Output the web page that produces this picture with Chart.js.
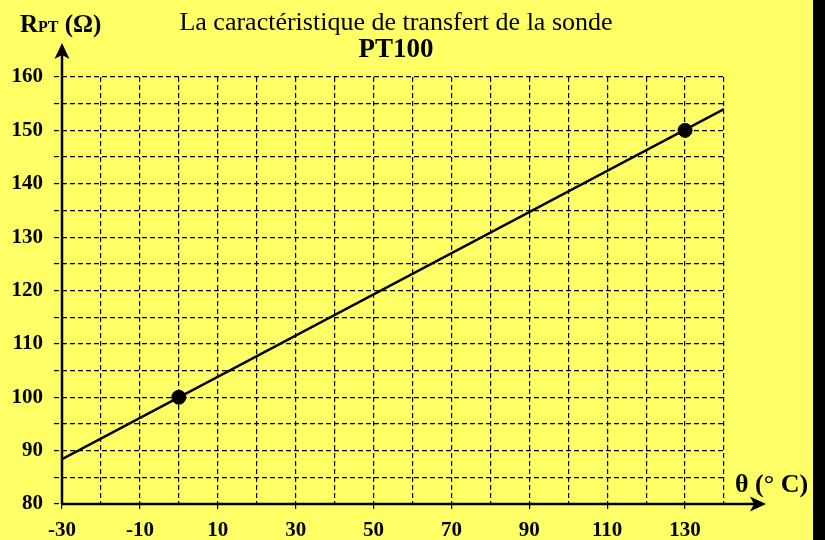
<!DOCTYPE html>
<html>
<head>
<meta charset="utf-8">
<script src="https://cdn.jsdelivr.net/npm/chart.js@4"></script>
<style>
  html, body { margin: 0; padding: 0; background: #ffff66; }
  #wrap { width: 813px; height: 540px; background: #ffff66; border-right: 12px solid #000; }
  canvas { display: block; }
</style>
</head>
<body>
<div id="wrap"><canvas id="chart" width="813" height="540"></canvas></div>
<script>
// Measured points of the PT100 probe
const pointTemps = [0, 130];
const pointRes = [100, 150];

// Transfer line drawn across the whole graph
const lineTemps = [-30, 140];
const lineRes = [88.4, 154];

// Tick labels shown on each axis
const xTickLabels = [-30, -10, 10, 30, 50, 70, 90, 110, 130];
const yTickLabels = [80, 90, 100, 110, 120, 130, 140, 150, 160];

const SERIF = '"Liberation Serif", "Times New Roman", serif';

/**
 * Axes with arrow heads and the hand-placed texts
 */
const decorations = {
  id: 'decorations',
  afterDraw(chart) {
    const ctx = chart.ctx;
    const area = chart.chartArea;
    const x0 = area.left;
    const y0 = area.bottom;

    ctx.save();
    ctx.strokeStyle = '#000';
    ctx.fillStyle = '#000';
    ctx.lineWidth = 2.5;
    ctx.setLineDash([]);

    // axis lines
    ctx.beginPath();
    ctx.moveTo(x0, y0);
    ctx.lineTo(x0, 48);
    ctx.moveTo(x0, y0);
    ctx.lineTo(761, y0);
    ctx.stroke();

    // y arrow
    ctx.beginPath();
    ctx.moveTo(x0, 43);
    ctx.lineTo(x0 - 7.5, 59);
    ctx.lineTo(x0, 55);
    ctx.lineTo(x0 + 7.5, 59);
    ctx.closePath();
    ctx.fill();

    // x arrow
    ctx.beginPath();
    ctx.moveTo(766, y0);
    ctx.lineTo(750, y0 - 7.5);
    ctx.lineTo(754, y0);
    ctx.lineTo(750, y0 + 7.5);
    ctx.closePath();
    ctx.fill();

    // title
    ctx.textBaseline = 'alphabetic';
    ctx.textAlign = 'center';
    ctx.font = `26px ${SERIF}`;
    ctx.fillText('La caractéristique de transfert de la sonde', 396, 30);
    ctx.font = `bold 27px ${SERIF}`;
    ctx.fillText('PT100', 396, 57);

    // y axis title: R PT (Ω)
    ctx.textAlign = 'left';
    let x = 20;
    ctx.font = `bold 25px ${SERIF}`;
    ctx.fillText('R', x, 32);
    x += ctx.measureText('R').width;
    ctx.font = `bold 16px ${SERIF}`;
    ctx.fillText('PT', x, 32);
    x += ctx.measureText('PT').width;
    ctx.font = `bold 25px ${SERIF}`;
    ctx.fillText(' (Ω)', x, 32);

    // x axis title
    ctx.font = `bold 26px ${SERIF}`;
    ctx.fillText('θ (° C)', 735, 492);

    ctx.restore();
  },
};

const ctx = document.getElementById('chart').getContext('2d');

new Chart(ctx, {
  type: 'scatter',
  data: {
    datasets: [
      {
        label: 'Points',
        data: pointTemps.map((t, i) => ({ x: t, y: pointRes[i] })),
        backgroundColor: '#000',
        borderColor: '#000',
        pointRadius: 7,
        pointHoverRadius: 7,
      },
      {
        label: 'RPT',
        data: lineTemps.map((t, i) => ({ x: t, y: lineRes[i] })),
        showLine: true,
        borderColor: '#000',
        borderWidth: 2.5,
        pointRadius: 0,
        pointHoverRadius: 0,
      },
    ],
  },
  options: {
    responsive: false,
    animation: false,
    layout: {
      padding: { left: 0, top: 77, right: 89, bottom: 0 },
    },
    plugins: {
      legend: { display: false },
      tooltip: { enabled: false },
    },
    scales: {
      x: {
        type: 'linear',
        min: -30,
        max: 140,
        afterFit: (scale) => { scale.height = 36; },
        border: { display: false, dash: [5, 3] },
        grid: {
          color: '#000',
          lineWidth: 1.2,
          tickLength: 6,
          tickWidth: 1.2,
          tickBorderDash: [5, 3],
          tickColor: (c) => (c.tick && xTickLabels.includes(c.tick.value) ? '#000' : 'rgba(0,0,0,0)'),
        },
        ticks: {
          stepSize: 10,
          autoSkip: false,
          maxRotation: 0,
          padding: 8,
          color: '#000',
          font: { family: SERIF, size: 21, weight: 'bold' },
          callback: (v) => (xTickLabels.includes(v) ? String(v) : ''),
        },
      },
      y: {
        type: 'linear',
        min: 80,
        max: 160,
        afterFit: (scale) => { scale.width = 62; },
        border: { display: false, dash: [5, 3] },
        grid: {
          color: '#000',
          lineWidth: 1.2,
          tickLength: 8,
          tickWidth: 1.2,
          tickColor: '#000',
          tickBorderDash: [5, 3],
        },
        ticks: {
          stepSize: 5,
          autoSkip: false,
          padding: 11,
          color: '#000',
          font: { family: SERIF, size: 21, weight: 'bold' },
          callback: (v) => (yTickLabels.includes(v) ? String(v) : ''),
        },
      },
    },
  },
  plugins: [decorations],
});
</script>
</body>
</html>
